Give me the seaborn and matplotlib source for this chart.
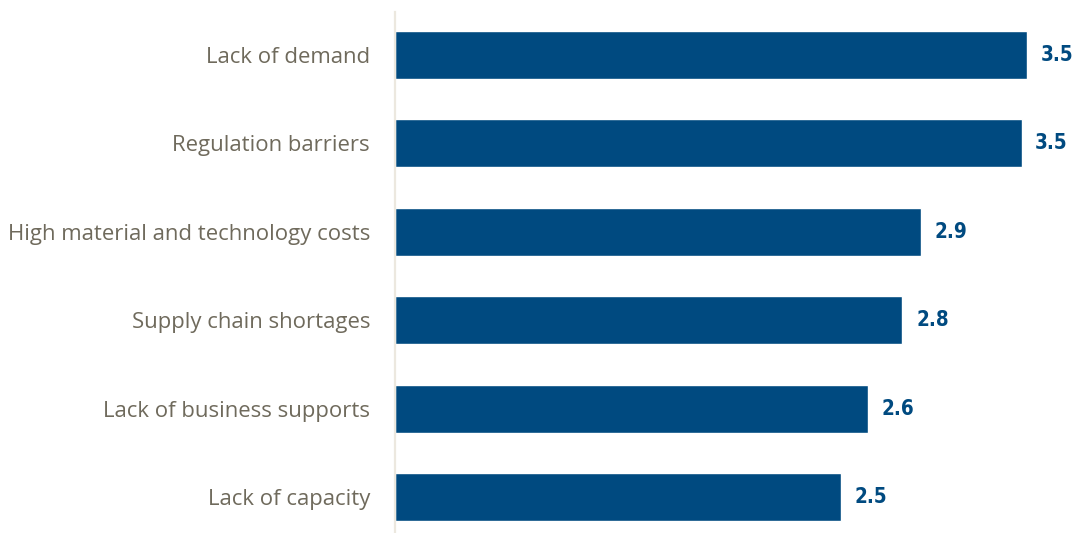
import matplotlib
matplotlib.use("Agg")
import matplotlib.pyplot as plt
import seaborn as sns
import pandas as pd
from matplotlib import font_manager

categories = ["Lack of demand", "Regulation barriers", "High material and technology costs",
              "Supply chain shortages", "Lack of business supports", "Lack of capacity"]
values = [3.50, 3.47, 2.91, 2.81, 2.62, 2.47]

sns.set_theme(style="white")
plt.rcParams['font.family'] = ['Open Sans', 'DejaVu Sans']

df = pd.DataFrame({"cat": categories, "val": values})

W, H = 1073, 533
fig = plt.figure(figsize=(W / 100, H / 100), dpi=100)
ax = fig.add_axes([395 / W, 0, 678 / W, 521 / H])
sns.barplot(data=df, y="cat", x="val", orient="h", color="#004a80", saturation=1,
            width=0.543, ax=ax)
ax.set_xlim(0, 678 / 180.6)
ax.set_ylim(5.407, -0.486)
ax.set_xlabel("")
ax.set_ylabel("")
ax.set_xticks([])
for s in ["top", "right", "bottom"]:
    ax.spines[s].set_visible(False)
ax.spines["left"].set_color("#ece8df")
ax.spines["left"].set_linewidth(1.6)
ax.tick_params(axis="y", length=0, pad=18, labelsize=15.9, labelcolor="#6f6a5c")

# pick a condensed bold font if one is installed
vprop = None
for f in font_manager.fontManager.ttflist:
    low = (f.name + " " + f.fname).lower()
    if ("condensed" in low or "narrow" in low) and ("bold" in low or f.weight in ("bold", 700)):
        vprop = font_manager.FontProperties(fname=f.fname, size=14.8)
        break
if vprop is None:
    vprop = font_manager.FontProperties(family="DejaVu Sans", weight="bold",
                                        stretch="condensed", size=13)
for i, v in enumerate(values):
    ax.text(v + 0.075, i, f"{v:.1f}", va="center", ha="left",
            color="#004a80", fontproperties=vprop)

fig.savefig("out.png", dpi=100)
